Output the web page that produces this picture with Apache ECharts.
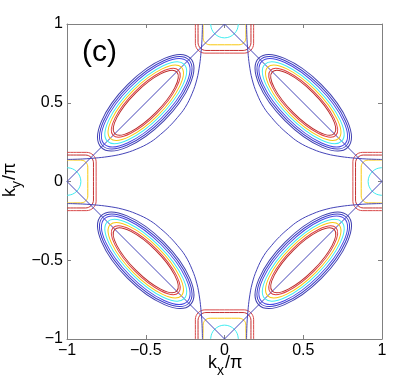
<!DOCTYPE html>
<html>
<head>
<meta charset="utf-8">
<script src="https://cdn.jsdelivr.net/npm/echarts@6/dist/echarts.min.js"></script>
<style>
  html, body { margin: 0; padding: 0; background: #fff; }
  #chart { width: 407px; height: 383px; }
</style>
</head>
<body>
<div id="chart"></div>
<script>
const FONT = 'Liberation Sans, Arial, Helvetica, sans-serif'

// nodal pockets: centres, then semi-axes of each contour from outer to inner
const nodalCentres = [[0.5, 0.5], [-0.5, 0.5], [-0.5, -0.5], [0.5, -0.5]]
const nodalMajor = [0.400, 0.386, 0.372, 0.345, 0.319, 0.293, 0.278]
const nodalMinor = [0.163, 0.151, 0.139, 0.124, 0.111, 0.098, 0.089]
const nodalColors = ['#4040b0', '#3c3cc8', '#4848e4', '#40ecf0', '#f8c810', '#e04040', '#bc2c2c']

// antinodal pocket round (0, 1), read left to right; the other three are mirror images
const redOuterArc = [[-0.185, 1], [-0.185, 0.94], [-0.185, 0.875], [-0.18, 0.852], [-0.167, 0.833], [-0.148, 0.82], [-0.125, 0.815], [-0.06, 0.815], [0, 0.815],
  [0.06, 0.815], [0.125, 0.815], [0.148, 0.82], [0.167, 0.833], [0.18, 0.852], [0.185, 0.875], [0.185, 0.94], [0.185, 1]]
const redInnerArc = [[-0.168, 1], [-0.168, 0.94], [-0.168, 0.882], [-0.164, 0.863], [-0.153, 0.847], [-0.137, 0.836], [-0.118, 0.832], [-0.06, 0.832], [0, 0.832],
  [0.06, 0.832], [0.118, 0.832], [0.137, 0.836], [0.153, 0.847], [0.164, 0.863], [0.168, 0.882], [0.168, 0.94], [0.168, 1]]
const yellowArc = [[-0.136, 1], [-0.136, 0.96], [-0.136, 0.913], [-0.133, 0.896], [-0.123, 0.881], [-0.108, 0.871], [-0.091, 0.868], [-0.045, 0.868], [0, 0.868],
  [0.045, 0.868], [0.091, 0.868], [0.108, 0.871], [0.123, 0.881], [0.133, 0.896], [0.136, 0.913], [0.136, 0.96], [0.136, 1]]
const cyanArc = [[-0.088, 1], [-0.081, 0.966], [-0.062, 0.938], [-0.034, 0.919], [0, 0.912],
  [0.034, 0.919], [0.062, 0.938], [0.081, 0.966], [0.088, 1]]
const arcColors = ['#d84848', '#c43030', '#f8c810', '#40ecf0']

// open contour in the kx > 0, ky > 0 quadrant
const openContour = [[0.14, 1], [0.143, 0.9], [0.149, 0.82], [0.158, 0.74], [0.175, 0.65], [0.205, 0.56], [0.25, 0.47], [0.30, 0.405], [0.35, 0.35],
  [0.405, 0.30], [0.47, 0.25], [0.56, 0.205], [0.65, 0.175], [0.74, 0.158], [0.82, 0.149], [0.9, 0.143], [1, 0.14]]

// magnetic zone boundary
const zoneEdge = [[0, 1], [1, 0], [0, -1], [-1, 0], [0, 1]]

const pocketMaps = [p => p, p => [p[0], -p[1]], p => [p[1], p[0]], p => [-p[1], p[0]]]
const quadrantMaps = [p => p, p => [-p[0], p[1]], p => [-p[0], -p[1]], p => [p[0], -p[1]]]

function lineSeries (points, color, smooth) {
  return {
    type: 'line',
    data: points,
    showSymbol: false,
    smooth: smooth,
    silent: true,
    lineStyle: { width: 1, color: color },
    z: 2
  }
}

function minus (v) {
  return String(v).replace('-', '\u2212')
}

function axis (position, labels) {
  return {
    type: 'value',
    position: position,
    min: -1,
    max: 1,
    interval: 0.5,
    axisLine: { onZero: false, lineStyle: { color: '#808080', width: 1 } },
    axisTick: { inside: true, length: 4, lineStyle: { color: '#808080' } },
    axisLabel: { show: labels, formatter: minus, color: '#000', fontSize: 16, fontFamily: FONT, margin: 4 },
    splitLine: { show: false }
  }
}

function label (text, x, y, size) {
  return { type: 'text', x: x, y: y, style: { text: text, font: size + 'px ' + FONT, fill: '#000', align: 'left', verticalAlign: 'middle' } }
}

const series = []

series.push({
  type: 'custom',
  coordinateSystem: 'cartesian2d',
  silent: true,
  encode: { x: 0, y: 1 },
  data: nodalCentres.flatMap(c => nodalMajor.map((a, i) => [c[0], c[1], a, nodalMinor[i], i])),
  renderItem: function (params, api) {
    const c = api.coord([api.value(0), api.value(1)])
    const rx = api.size([api.value(2), 0])[0]
    const ry = api.size([api.value(3), 0])[0]
    const tilt = api.value(0) * api.value(1) > 0 ? -Math.PI / 4 : Math.PI / 4
    return {
      type: 'ellipse',
      x: c[0],
      y: c[1],
      rotation: tilt,
      shape: { cx: 0, cy: 0, rx: rx, ry: ry },
      style: { fill: 'none', stroke: nodalColors[api.value(4)], lineWidth: 1 }
    }
  },
  z: 3
})

const arcs = [redOuterArc, redInnerArc, yellowArc, cyanArc]
pocketMaps.forEach(map => {
  arcs.forEach((arc, i) => {
    series.push(lineSeries(arc.map(map), arcColors[i], 0.35))
  })
})

quadrantMaps.forEach(map => {
  series.push(lineSeries(openContour.map(map), '#4444b8', 0.4))
})

series.push(lineSeries(zoneEdge, '#4444b8', false))

const chart = echarts.init(document.getElementById('chart'), null, { renderer: 'canvas' })
chart.setOption({
  animation: false,
  backgroundColor: '#fff',
  grid: { left: 67, top: 24, width: 315, height: 315, outerBoundsMode: 'none' },
  xAxis: [axis('bottom', true), axis('top', false)],
  yAxis: [axis('left', true), axis('right', false)],
  series: series,
  graphic: [
    label('(c)', 82, 52.5, 30),
    {
      type: 'group', x: 208, y: 369,
      children: [label('k', 0, -6.3, 18), label('x', 9, 2.2, 14), label('/\u03c0', 17, -6.3, 18)]
    },
    {
      type: 'group', x: 16, y: 197, rotation: Math.PI / 2,
      children: [label('k', 0, -6.3, 18), label('y', 9, 1.2, 14), label('/\u03c0', 17, -6.3, 18)]
    }
  ]
})
</script>
</body>
</html>
